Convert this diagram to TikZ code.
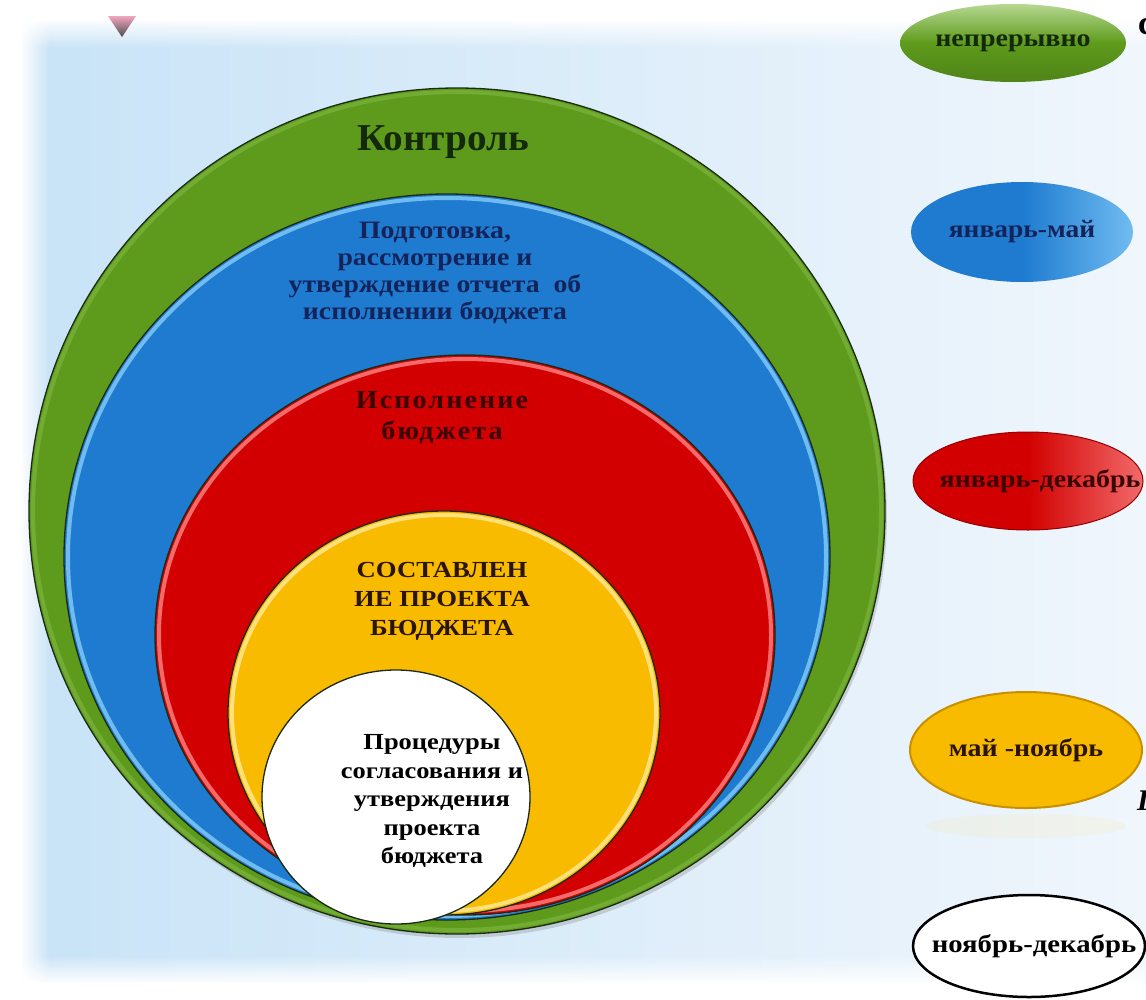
\documentclass[tikz,border=0pt]{standalone}
\usepackage{fontspec}
\setmainfont{Liberation Serif}
\usetikzlibrary{shapes.geometric,shadows,fadings}
\definecolor{bgL}{HTML}{C8E3F7}
\definecolor{bgR}{HTML}{F0F6FC}
\definecolor{cgreen}{HTML}{5E9B1C}
\definecolor{cgreenL}{HTML}{86BD48}
\definecolor{cblue}{HTML}{1E7BD0}
\definecolor{cblueL}{HTML}{70BCF0}
\definecolor{cred}{HTML}{D20000}
\definecolor{credL}{HTML}{F26A6A}
\definecolor{cyel}{HTML}{F9BB00}
\definecolor{cyelL}{HTML}{FFE07A}
\definecolor{cyelD}{HTML}{C89000}
\definecolor{tgreen}{HTML}{14280A}
\definecolor{tblue}{HTML}{14245A}
\definecolor{tred}{HTML}{3A0505}
\definecolor{tyel}{HTML}{2A1505}
\definecolor{outl}{HTML}{1A2A14}
\definecolor{pinkdec}{HTML}{F2A6C0}
\newcommand{\txt}[2]{\bfseries\fontsize{#1}{#2}\selectfont}
\begin{document}
\begin{tikzpicture}[x=1pt,y=-1pt,
  disc/.style={ellipse, inner sep=0pt, draw=outl, line width=1.3pt},
  lbl/.style={align=center, inner sep=0pt},
  pill/.style={ellipse, inner sep=0pt},
  rim/.style={line width=4pt},
]
\useasboundingbox (0,0) rectangle (1146,999);
% background
\fill[white] (0,0) rectangle (1146,999);
\shade[left color=bgL, right color=bgR] (22,20) rectangle (1146,982);
\fill[white, path fading=south] (0,18) rectangle (1146,48);
\fill[white, path fading=east] (20,0) rectangle (50,999);
\fill[white, path fading=north] (0,955) rectangle (1146,984);
% top decoration
\shade[top color=pinkdec, bottom color=black!70] (108,16) -- (136,16) -- (122,37) -- cycle;
% circles
\node[disc, fill=cgreen, minimum width=856pt, minimum height=846pt,
      drop shadow={opacity=0.3, shadow xshift=2pt, shadow yshift=-4pt}] (green) at (457,511) {};
\draw[cgreenL, rim, opacity=0.5] (green.center) ellipse [x radius=424, y radius=419];
\node[disc, fill=cblue, minimum width=766pt, minimum height=726pt] (blue) at (447,557) {};
\draw[cblueL, rim] (blue.center) ellipse [x radius=379, y radius=359];
\node[disc, fill=cred, minimum width=620pt, minimum height=560pt] (red) at (465,635) {};
\draw[credL, rim] (red.center) ellipse [x radius=306, y radius=276];
\node[disc, fill=cyel, minimum width=432pt, minimum height=404pt] (yel) at (444,713) {};
\draw[cyelL, rim] (yel.center) ellipse [x radius=212, y radius=198];
\node[disc, fill=white, minimum width=268pt, minimum height=254pt] (wht) at (396,797) {};
% circle labels
\node[lbl, text=tgreen, font=\txt{38}{40}\addfontfeature{FakeStretch=1.03}] (tk) at (443,142) {Контроль};
\node[lbl, text=tblue, font=\txt{25}{27}\addfontfeature{FakeStretch=1.11}] (tb) at (435,273)
  {Подготовка,\\рассмотрение и\\утверждение отчета~ об\\исполнении бюджета};
\node[lbl, text=tred, font=\txt{26}{31}\addfontfeature{LetterSpace=8,FakeStretch=1.08}] (tr) at (442,418)
  {Исполнение\\бюджета};
\node[lbl, text=tyel, font=\txt{23}{29}\addfontfeature{FakeStretch=1.16}] (ty) at (442,601)
  {СОСТАВЛЕН\\ИЕ ПРОЕКТА\\БЮДЖЕТА};
\node[lbl, text=black, font=\txt{23}{28.5}\addfontfeature{FakeStretch=1.15}] (tw) at (432,801)
  {Процедуры\\согласования и\\утверждения\\проекта\\бюджета};
% pills
\node[pill, minimum width=226pt, minimum height=78pt, top color=cgreenL!60!white, bottom color=cgreen!85!black, middle color=cgreen] (p1) at (1013,43) {};
\node[lbl, text=tgreen, font=\txt{25}{25}\addfontfeature{FakeStretch=1.12}] (l1) at (p1.center) {непрерывно};
\node[pill, minimum width=222pt, minimum height=100pt, left color=cblue, right color=cblueL, middle color=cblue] (p2) at (1022,232) {};
\node[lbl, text=tblue, font=\txt{25}{25}\addfontfeature{FakeStretch=1.1}] (l2) at (p2.center) {январь-май};
\node[pill, minimum width=230pt, minimum height=98pt, left color=cred, right color=credL, middle color=cred,
      draw=cred!70!black, line width=1pt] (p3) at (1028,481) {};
\node[lbl, text=tred, font=\txt{25}{25}\addfontfeature{FakeStretch=1.12}] (l3) at ([xshift=12pt]p3.center) {январь-декабрь};
\fill[cyelL, opacity=0.12] (1026,826) ellipse [x radius=100, y radius=12];
\node[pill, minimum width=232pt, minimum height=116pt, fill=cyel, draw=cyelD, line width=2pt] (p4) at (1026,750) {};
\node[lbl, text=tyel, font=\txt{25}{25}\addfontfeature{FakeStretch=1.12}] (l4) at (p4.center) {май -ноябрь};
\node[pill, minimum width=232pt, minimum height=102pt, fill=white, draw=black, line width=2.5pt] (p5) at (1029,946) {};
\node[lbl, text=black, font=\txt{25}{25}\addfontfeature{FakeStretch=1.15}] (l5) at ([xshift=5pt]p5.center) {ноябрь-декабрь};
% cropped fragments at right edge
\node[anchor=west, inner sep=0pt, font=\txt{34}{34}] (f1) at (1138,27) {с};
\node[anchor=west, inner sep=0pt, font=\bfseries\itshape\fontsize{30}{30}\selectfont] (f2) at (1137,801) {I};
\end{tikzpicture}
\end{document}
